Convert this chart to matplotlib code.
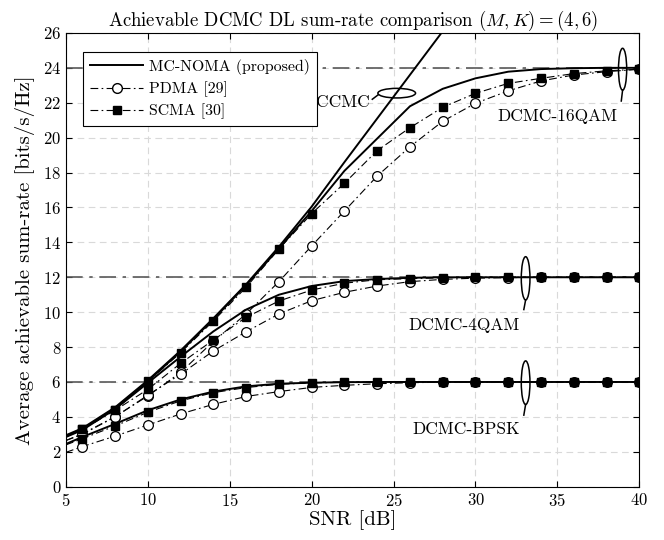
import numpy as np
import matplotlib
matplotlib.use('Agg')
import matplotlib.pyplot as plt
from matplotlib.patches import Ellipse
from matplotlib.lines import Line2D

plt.rcParams['font.family'] = 'cmr10'
plt.rcParams['mathtext.fontset'] = 'cm'
plt.rcParams['axes.unicode_minus'] = False
plt.rcParams['axes.formatter.use_mathtext'] = True

# --- data (SNR in dB, sum-rate in bits/s/Hz) ---
snr = [5, 6, 8, 10, 12, 14, 16, 18, 20, 22, 24, 26, 28, 30, 32, 34, 36, 38, 40]

ccmc_snr = [5, 6, 8, 10, 12, 14, 16, 18, 20, 22, 24, 26, 28]
ccmc = [2.95, 3.35, 4.55, 6.1, 7.8, 9.65, 11.6, 13.75, 16.05, 18.6, 21.1, 23.6, 26.1]

mcnoma_16qam = [2.9, 3.3, 4.5, 6.05, 7.75, 9.6, 11.55, 13.65, 15.8, 18.1, 19.95, 21.8,
                22.8, 23.4, 23.78, 23.93, 23.98, 24.0, 24.0]
pdma_16qam = [2.65, 3.03, 4.02, 5.2, 6.55, 8.33, 9.9, 11.75, 13.8, 15.8, 17.8, 19.48,
              20.94, 21.97, 22.68, 23.25, 23.59, 23.78, 23.92]
scma_16qam = [2.9, 3.3, 4.4, 6.03, 7.68, 9.5, 11.43, 13.62, 15.65, 17.39, 19.26, 20.57,
              21.74, 22.54, 23.11, 23.4, 23.67, 23.83, 23.92]

mcnoma_4qam = [2.85, 3.25, 4.45, 5.95, 7.45, 8.9, 10.15, 11.0, 11.5, 11.78, 11.9, 11.97,
               12.0, 12.0, 12.0, 12.0, 12.0, 12.0, 12.0]
pdma_4qam = [2.65, 3.0, 4.0, 5.25, 6.45, 7.78, 8.88, 9.9, 10.66, 11.14, 11.5, 11.75,
             11.88, 11.95, 11.98, 12.0, 12.0, 12.0, 12.0]
scma_4qam = [2.85, 3.28, 4.38, 5.58, 7.07, 8.41, 9.71, 10.64, 11.27, 11.66, 11.86, 11.92,
             11.97, 12.0, 12.0, 12.0, 12.0, 12.0, 12.0]

mcnoma_bpsk = [2.45, 2.85, 3.6, 4.38, 5.0, 5.45, 5.75, 5.9, 5.96, 5.99, 6.0, 6.0,
               6.0, 6.0, 6.0, 6.0, 6.0, 6.0, 6.0]
pdma_bpsk = [1.97, 2.3, 2.9, 3.54, 4.17, 4.72, 5.17, 5.45, 5.69, 5.81, 5.9, 5.96,
             5.99, 6.0, 6.0, 6.0, 6.0, 6.0, 6.0]
scma_bpsk = [2.4, 2.75, 3.48, 4.27, 4.92, 5.39, 5.68, 5.87, 5.95, 5.98, 6.0, 6.0,
             6.0, 6.0, 6.0, 6.0, 6.0, 6.0, 6.0]

dcmc_limits = [24, 12, 6]

# --- figure ---
fig = plt.figure(figsize=(6.64, 5.4), dpi=100)
ax = fig.add_axes([0.0994, 0.0987, 0.8634, 0.8403])

dashdot = (0, (7, 3, 1.5, 3))
for lim in dcmc_limits:
    ax.plot([5, 40], [lim, lim], color='0.35', lw=1.2, linestyle=(0, (10, 4, 2, 4)), zorder=2)

ax.plot(ccmc_snr, ccmc, color='k', lw=1.4, zorder=4)

marks = list(range(1, len(snr)))
for pdma, scma, mc in [(pdma_16qam, scma_16qam, mcnoma_16qam),
                       (pdma_4qam, scma_4qam, mcnoma_4qam),
                       (pdma_bpsk, scma_bpsk, mcnoma_bpsk)]:
    ax.plot(snr, pdma, color='k', lw=0.8, linestyle=dashdot, marker='o', ms=7,
            mfc='white', mec='k', mew=0.9, markevery=marks, zorder=3)
    ax.plot(snr, scma, color='k', lw=0.8, linestyle=dashdot, marker='s', ms=5.5,
            mfc='k', mec='k', markevery=marks, zorder=3)
    ax.plot(snr, mc, color='k', lw=1.4, zorder=4)

# ellipse annotations
ax.add_patch(Ellipse((25.19, 22.55), 2.3, 0.55, fill=False, ec='k', lw=1.1, zorder=5))
ax.plot([23.7, 24.05], [22.2, 22.45], color='k', lw=1.1, zorder=5)
ax.text(23.55, 22.05, 'CCMC', ha='right', va='center', fontsize=12.5)

ax.add_patch(Ellipse((38.98, 23.92), 0.5, 2.4, fill=False, ec='k', lw=1.1, zorder=5))
ax.plot([38.98, 38.9], [22.72, 22.1], color='k', lw=1.1, zorder=5)
ax.text(35.0, 21.24, 'DCMC-16QAM', ha='center', va='center', fontsize=12.5)

ax.add_patch(Ellipse((33.06, 11.94), 0.53, 2.48, fill=False, ec='k', lw=1.1, zorder=5))
ax.plot([33.06, 32.95], [10.7, 10.15], color='k', lw=1.1, zorder=5)
ax.text(29.3, 9.27, 'DCMC-4QAM', ha='center', va='center', fontsize=12.5)

ax.add_patch(Ellipse((33.06, 5.96), 0.53, 2.5, fill=False, ec='k', lw=1.1, zorder=5))
ax.plot([33.06, 32.95], [4.71, 4.1], color='k', lw=1.1, zorder=5)
ax.text(29.4, 3.29, 'DCMC-BPSK', ha='center', va='center', fontsize=12.5)

ax.set_xlim(5, 40)
ax.set_ylim(0, 26)
ax.set_xticks(np.arange(5, 41, 5))
ax.set_yticks(np.arange(0, 27, 2))
ax.tick_params(direction='in', top=True, right=True, labelsize=12, length=4)
ax.grid(True, color='0.85', linestyle=(0, (6, 4)), lw=0.8)
ax.set_axisbelow(True)
for sp in ax.spines.values():
    sp.set_linewidth(0.8)

ax.set_xlabel('SNR [dB]', fontsize=15, labelpad=1)
ax.set_ylabel('Average achievable sum-rate [bits/s/Hz]', fontsize=15, labelpad=6)
ax.set_title(r'Achievable DCMC DL sum-rate comparison $(M,K)=(4,6)$', fontsize=13.5, pad=5)

handles = [
    Line2D([], [], color='k', lw=1.4),
    Line2D([], [], color='k', lw=0.8, linestyle=dashdot, marker='o', ms=7, mfc='white', mec='k'),
    Line2D([], [], color='k', lw=0.8, linestyle=dashdot, marker='s', ms=5.5, mfc='k', mec='k'),
]
leg = ax.legend(handles, ['MC-NOMA (proposed)', 'PDMA [29]', 'SCMA [30]'],
                loc='upper left', bbox_to_anchor=(0.03, 0.959), borderaxespad=0,
                fontsize=11.4, fancybox=False, edgecolor='k', framealpha=1,
                handlelength=3.35, labelspacing=0.42, borderpad=0.45, handletextpad=0.35)
leg.get_frame().set_linewidth(0.8)

fig.savefig('out.png', dpi=100)
